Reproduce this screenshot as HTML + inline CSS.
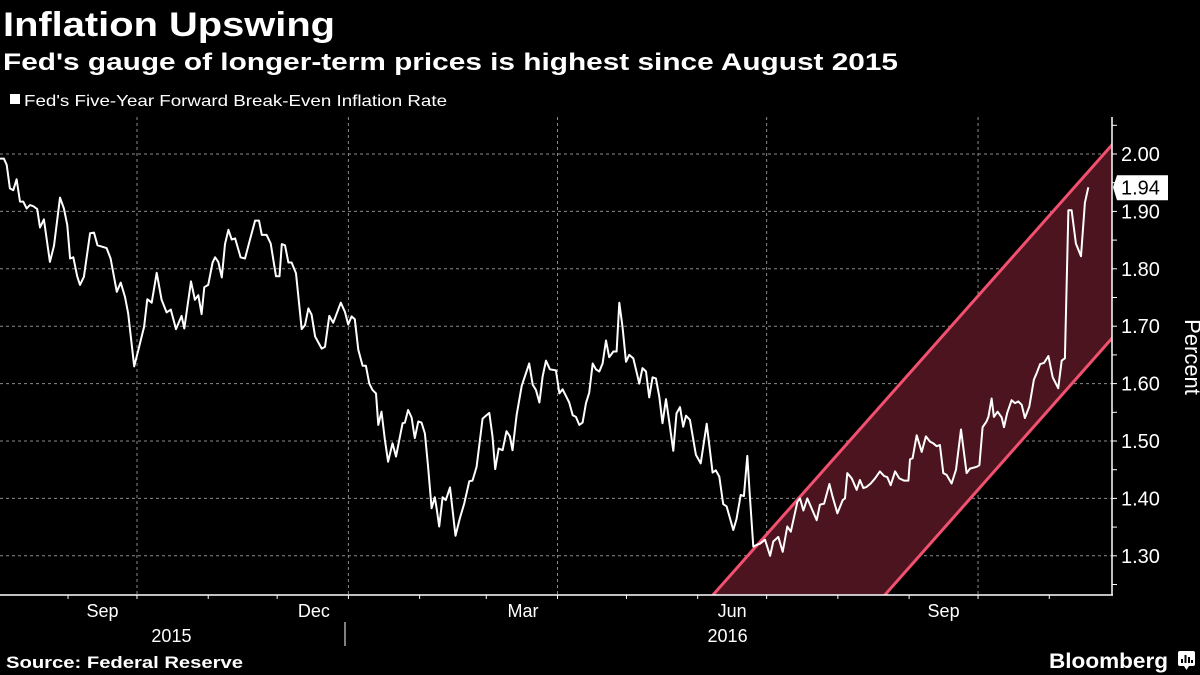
<!DOCTYPE html>
<html><head><meta charset="utf-8"><style>
html,body{margin:0;padding:0;background:#000;}
svg{display:block;font-family:"Liberation Sans","DejaVu Sans",sans-serif;}
</style></head><body>
<svg id="chart" width="1200" height="675" viewBox="0 0 1200 675">
<rect x="0" y="0" width="1200" height="675" fill="#000"/>
<text x="3" y="36" font-size="34" font-weight="bold" fill="#fff" textLength="332" lengthAdjust="spacingAndGlyphs">Inflation Upswing</text>
<text x="3" y="70" font-size="24" font-weight="bold" fill="#fff" textLength="895" lengthAdjust="spacingAndGlyphs">Fed's gauge of longer-term prices is highest since August 2015</text>
<rect x="10" y="94" width="10" height="10" fill="#fff"/>
<text x="24" y="106" font-size="16" fill="#fff" textLength="423" lengthAdjust="spacingAndGlyphs">Fed's Five-Year Forward Break-Even Inflation Rate</text>
<g id="grid"></g>
<g id="channel"></g>
<g id="series"></g>
<g id="axes"></g>
<text x="1185" y="357" font-size="22" fill="#fff" text-anchor="middle" transform="rotate(90 1185 357)">Percent</text>
<line x1="345" y1="622" x2="345" y2="646" stroke="#fff" stroke-width="1"/>
<text x="6" y="668" font-size="17" font-weight="bold" fill="#fff" textLength="237" lengthAdjust="spacingAndGlyphs">Source: Federal Reserve</text>
<text x="1049" y="668" font-size="21" font-weight="bold" fill="#fff" textLength="119" lengthAdjust="spacingAndGlyphs">Bloomberg</text>
<g>
<rect x="1178" y="651" width="17" height="15" rx="2" fill="#fff"/>
<path d="M1184 666 L1186.5 670 L1189 666 Z" fill="#fff"/>
<rect x="1181" y="659" width="2" height="4" fill="#000"/><rect x="1184.5" y="655" width="2" height="8" fill="#000"/><rect x="1188" y="657" width="2" height="6" fill="#000"/><rect x="1191" y="660" width="2" height="3" fill="#000"/>
</g>
</svg>
<script>
// Days since 2015-08-01
const days = [1.4,3.1,4.3,5.7,7.2,8.6,10.1,11.5,13.0,14.4,15.9,17.6,18.8,20.5,23.1,24.9,27.5,29.2,30.7,31.9,33.3,35.0,36.2,37.9,40.6,42.3,43.8,47.8,49.5,52.2,53.9,55.8,57.2,59.8,61.6,64.1,65.5,67.4,69.6,71.7,73.9,75.7,78.0,80.4,81.6,84.5,86.2,87.7,89.1,90.3,92.0,93.9,95.0,96.4,97.9,99.3,100.8,102.2,103.7,106.1,108.0,109.9,112.4,114.1,115.3,117.4,119.2,121.5,123.0,124.0,125.4,126.9,128.3,130.2,132.7,134.1,135.6,137.0,138.5,141.4,142.8,144.7,146.4,149.7,151.5,152.9,154.4,155.8,157.3,159.2,160.6,162.1,163.5,165.0,166.0,167.4,168.9,170.3,172.2,173.7,176.6,177.6,179.0,180.5,181.9,183.4,184.8,186.3,187.7,189.2,190.6,191.4,192.5,194.0,195.4,197.2,199.6,201.5,203.4,205.6,207.0,208.8,211.4,214.3,215.7,216.9,218.4,220.1,221.8,223.3,224.4,226.2,228.4,231.7,233.2,234.6,236.1,237.5,239.0,240.7,243.3,244.8,246.2,248.0,249.1,250.6,252.0,253.5,254.9,256.4,257.8,259.3,260.7,262.2,263.6,265.1,266.5,268.3,269.7,270.9,272.3,273.8,275.2,277.0,279.6,281.0,282.5,283.9,285.4,286.8,288.3,289.7,291.2,292.6,294.4,295.8,297.3,298.7,299.9,301.6,304.2,306.3,308.9,311.5,312.9,314.4,316.1,317.6,320.5,321.9,323.7,325.1,326.6,327.7,329.2,330.7,332.1,334.3,336.5,337.9,340.1,342.0,344.0,345.5,348.4,349.5,351.0,352.7,356.8,358.2,360.0,362.3,363.7,365.8,368.1,369.1,370.1,372.0,374.2,375.6,377.1,378.5,380.3,382.2,384.3,386.1,387.5,389.0,390.9,392.7,394.8,396.7,397.4,398.5,400.3,402.5,404.3,406.1,407.5,409.0,410.4,411.9,413.3,415.5,417.4,419.6,422.0,423.5,426.4,427.6,429.0,430.7,431.5,432.9,433.9,435.5,437.3,438.3,439.7,441.6,443.1,444.5,446.0,447.4,449.3,451.3,452.5,454.0,455.7,457.6,459.5,461.9,463.4,464.8,466.3,467.7,469.6,471.8,473.5,475.0];
const rates = [1.992,1.992,1.981,1.940,1.937,1.956,1.917,1.917,1.905,1.911,1.909,1.904,1.872,1.886,1.812,1.840,1.924,1.905,1.876,1.818,1.820,1.787,1.772,1.786,1.862,1.863,1.841,1.836,1.818,1.760,1.776,1.751,1.722,1.630,1.659,1.699,1.747,1.741,1.793,1.746,1.724,1.729,1.695,1.718,1.696,1.778,1.746,1.754,1.721,1.768,1.772,1.811,1.820,1.812,1.785,1.843,1.868,1.851,1.853,1.820,1.818,1.847,1.884,1.884,1.859,1.859,1.844,1.787,1.787,1.843,1.841,1.811,1.811,1.792,1.695,1.702,1.731,1.720,1.682,1.661,1.664,1.718,1.706,1.741,1.725,1.703,1.717,1.712,1.659,1.631,1.631,1.600,1.589,1.583,1.528,1.551,1.502,1.464,1.496,1.473,1.531,1.532,1.554,1.541,1.505,1.534,1.532,1.513,1.455,1.383,1.402,1.383,1.351,1.402,1.397,1.419,1.335,1.365,1.391,1.430,1.431,1.455,1.539,1.549,1.508,1.451,1.487,1.484,1.517,1.508,1.484,1.545,1.596,1.635,1.598,1.589,1.567,1.612,1.640,1.625,1.623,1.583,1.590,1.576,1.567,1.545,1.542,1.528,1.532,1.566,1.584,1.635,1.625,1.621,1.635,1.675,1.646,1.656,1.656,1.741,1.699,1.638,1.650,1.644,1.600,1.627,1.621,1.576,1.611,1.609,1.577,1.531,1.573,1.534,1.483,1.548,1.559,1.525,1.544,1.537,1.476,1.461,1.530,1.445,1.449,1.438,1.390,1.386,1.345,1.364,1.406,1.404,1.474,1.403,1.316,1.319,1.321,1.328,1.300,1.325,1.333,1.307,1.351,1.342,1.394,1.400,1.379,1.400,1.362,1.389,1.391,1.425,1.403,1.374,1.397,1.400,1.444,1.435,1.415,1.432,1.418,1.420,1.426,1.435,1.447,1.439,1.437,1.423,1.447,1.435,1.431,1.431,1.468,1.470,1.510,1.481,1.508,1.499,1.496,1.491,1.493,1.444,1.441,1.426,1.450,1.520,1.444,1.452,1.455,1.458,1.524,1.534,1.542,1.574,1.542,1.551,1.541,1.524,1.549,1.571,1.566,1.569,1.563,1.540,1.560,1.607,1.618,1.634,1.636,1.648,1.611,1.592,1.640,1.644,1.902,1.902,1.844,1.822,1.915,1.942];
const yTicks = [1.30,1.40,1.50,1.60,1.70,1.80,1.90,2.00];
const monthStarts = [0,31,61,92,122,153,184,213,244,274,305,335,366,397,427,458];
const quarterEnds = [61,153,244,335,427];
const monthLabels = ["Sep","Dec","Mar","Jun","Sep"];
const monthLabelDays = [46,138,229,320,412];
const yearLabels = ["2015","2016"];
const yearLabelDays = [76,318];
const upperChannelDays = [311.7,485.3];
const upperChannelVals = [1.232,2.016];
const lowerChannelDays = [386.5,485.3];
const lowerChannelVals = [1.232,1.679];

const NS = "http://www.w3.org/2000/svg";
const X0 = 0, X1 = 1112, YT = 117, YB = 595;
function xs(d){ return -3.2 + 2.298*d; }
function ys(v){ return 154 + (2.0 - v)*574; }
function mk(tag, attrs, parent){ const e=document.createElementNS(NS,tag); for(const k in attrs) e.setAttribute(k,attrs[k]); parent.appendChild(e); return e; }

const grid=document.getElementById('grid');
yTicks.forEach(v=>{
  const l=mk('line',{x1:X0,x2:X1,y1:ys(v),y2:ys(v),stroke:'#8a8a8a','stroke-width':1,'stroke-dasharray':'3,3'},grid);
  
  
});
quarterEnds.forEach(d=>{
  const l=mk('line',{x1:xs(d),x2:xs(d),y1:YT,y2:YB,stroke:'#8a8a8a','stroke-width':1,'stroke-dasharray':'3,3'},grid);
  
  
});

const ch=document.getElementById('channel');
const defs=mk('defs',{},ch);
const cp=mk('clipPath',{id:'plotclip'},defs);
mk('rect',{x:X0,y:YT,width:X1-X0,height:YB-YT},cp);
const cg=mk('g',{'clip-path':'url(#plotclip)'},ch);
const ux=upperChannelDays.map(xs), uy=upperChannelVals.map(ys);
const lx=lowerChannelDays.map(xs), ly=lowerChannelVals.map(ys);
function extend(xa,ya,yTarget){ const s=(ya[1]-ya[0])/(xa[1]-xa[0]); return [xa[0]+(yTarget-ya[0])/s, yTarget]; }
const uTop=extend(ux,uy,YT-20), uBot=extend(ux,uy,YB+20), lTop=extend(lx,ly,YT-20), lBot=extend(lx,ly,YB+20);
const fill=mk('polygon',{points:[uBot,uTop,lTop,lBot].map(p=>p.join(',')).join(' '),fill:'#4b141f'},cg);


const ul=mk('line',{x1:uBot[0],y1:uBot[1],x2:uTop[0],y2:uTop[1],stroke:'#f2506f','stroke-width':3},cg);


const ll=mk('line',{x1:lBot[0],y1:lBot[1],x2:lTop[0],y2:lTop[1],stroke:'#f2506f','stroke-width':3},cg);



const sg=document.getElementById('series');
const pts=days.map((d,i)=>xs(d).toFixed(1)+','+ys(rates[i]).toFixed(1)).join(' ');
const line=mk('polyline',{points:pts,fill:'none',stroke:'#fff','stroke-width':2,'stroke-linejoin':'round'},sg);



const ax=document.getElementById('axes');
const xa=mk('line',{x1:X0,x2:X1+1,y1:YB,y2:YB,stroke:'#fff','stroke-width':1.5},ax);


const ya=mk('line',{x1:X1,x2:X1,y1:YT,y2:YB,stroke:'#fff','stroke-width':1.5},ax);


monthStarts.forEach(d=>{
  const x=xs(d); if(x<X0||x>X1) return;
  const t=mk('line',{x1:x,x2:x,y1:YB,y2:YB+4,stroke:'#fff','stroke-width':1},ax);
  
  
});
monthLabels.forEach((s,i)=>{
  const t=mk('text',{x:xs(monthLabelDays[i]),y:617,'font-size':18,fill:'#fff','text-anchor':'middle'},ax);
  t.textContent=s;
  
  
});
yearLabels.forEach((s,i)=>{
  const t=mk('text',{x:xs(yearLabelDays[i]),y:642,'font-size':18,fill:'#fff','text-anchor':'middle'},ax);
  t.textContent=s;
  
  
});
for(let v=1.25; v<=2.06; v+=0.05){
  const t=mk('line',{x1:X1,x2:X1+5,y1:ys(v),y2:ys(v),stroke:'#fff','stroke-width':1},ax);
  
  
}
yTicks.forEach(v=>{
  const t=mk('text',{x:1121,y:ys(v)+7,'font-size':20,fill:'#fff'},ax);
  t.textContent=v.toFixed(2);
  
  
});
const last=rates[rates.length-1], ly2=ys(last);
const tag=mk('path',{d:`M${X1+1} ${ly2} L${X1+5} ${ly2-12} L1168 ${ly2-12} L1168 ${ly2+13} L${X1+5} ${ly2+13} Z`,fill:'#fff'},ax);


const tt=mk('text',{x:1121,y:ly2+7,'font-size':20,fill:'#000'},ax);
tt.textContent=last.toFixed(2);


</script>
</body></html>
